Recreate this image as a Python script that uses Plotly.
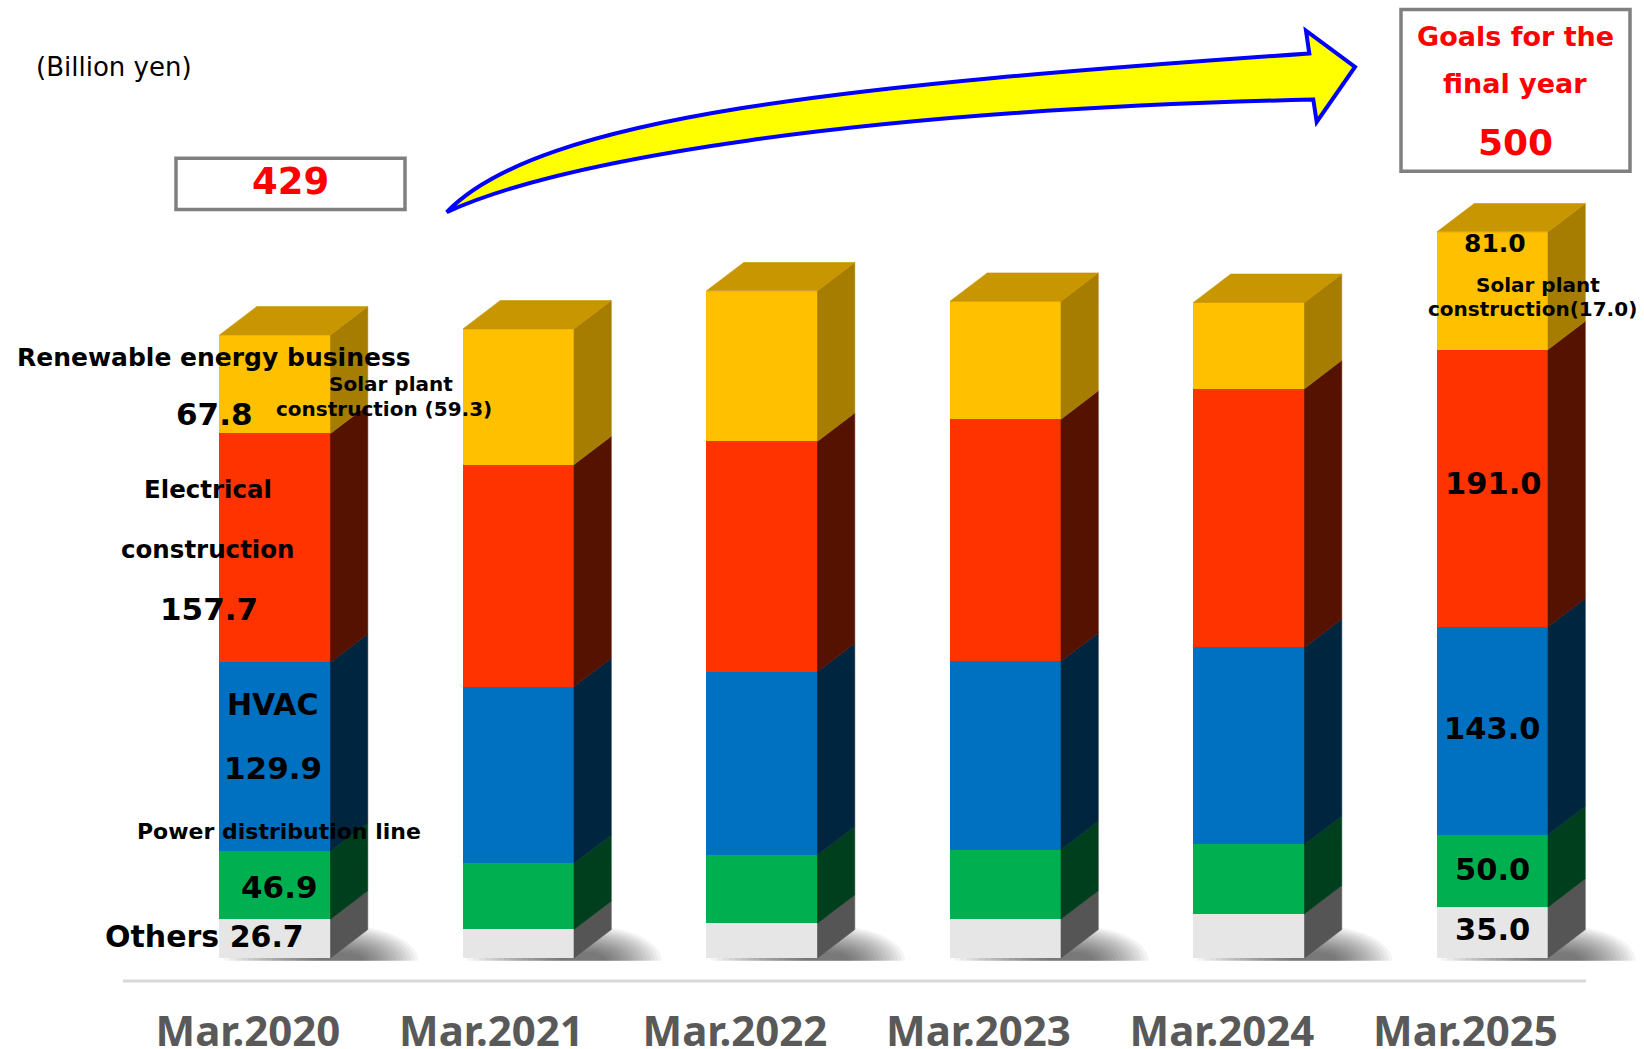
import math
import plotly.graph_objects as go

# ---------------- data ----------------
categories = ["Mar.2020", "Mar.2021", "Mar.2022", "Mar.2023", "Mar.2024", "Mar.2025"]
others      = [26.7, 19.6, 23.9, 26.8, 30.4, 35.0]
power_line  = [46.9, 45.6, 47.1, 47.8, 47.9, 50.0]
hvac        = [129.9, 121.7, 126.1, 129.7, 135.5, 143.0]
electrical  = [157.7, 152.9, 158.7, 166.7, 178.2, 191.0]
renewable   = [67.8, 93.4, 103.6, 81.2, 59.4, 81.0]
solar_plant = [59.3, 17.0]          # solar plant construction (first / final year)
actual_total = 429
goal_total = 500

# ---------------- geometry / style ----------------
SY = 1058 / 1049             # vertical compensation for the capture
W, H = 1644, 1058
PLOT_BOTTOM = 979 * SY       # gray floor line
MB = H - PLOT_BOTTOM
PH = PLOT_BOTTOM
PX_PER_CAT = 243.5
X_ORIGIN_PX = 275.0
BASE_PX = 956.0 * SY
PX_PER_UNIT = 1.4492 * SY
BAR_W = 0.456
DX = 0.153
DY = 28.3 / 1.4492
FONT = "DejaVu Sans"
TICK_FONT = "Noto Sans"

series = [
    ("Others", others, "#E6E6E6", "#555555"),
    ("Power distribution line", power_line, "#00B050", "#003F1D"),
    ("HVAC", hvac, "#0070C0", "#00263F"),
    ("Electrical construction", electrical, "#FF3300", "#551200"),
    ("Renewable energy business", renewable, "#FFC000", "#A67D00"),
]
TOP_COLOR = "#C79600"

x_range = [-X_ORIGIN_PX / PX_PER_CAT, (W - X_ORIGIN_PX) / PX_PER_CAT]
y_range = [-(PH - BASE_PX) / PX_PER_UNIT, BASE_PX / PX_PER_UNIT]


def px(xp):
    return xp / W


def py(yp):
    return 1 - yp * SY / PH


xs = list(range(len(categories)))
fig = go.Figure()

for name, vals, front, side in series:
    fig.add_trace(go.Bar(
        x=xs, y=vals, name=name, width=BAR_W,
        marker=dict(color=front, line=dict(width=0)),
        hoverinfo="name+y", showlegend=False,
    ))

shapes = []
# soft ground shadows (stacked translucent half-ellipses)
for i in xs:
    fl = i - BAR_W / 2
    fr = i + BAR_W / 2
    cx = fr + 0.06
    yb = -2.0
    n_layers = 16
    for k in range(n_layers):
        s = 1 - k * 0.05
        hwL, hwR, hh = 0.50 * s, 0.30 * s, 24.0 * s
        pts = []
        for j in range(49):
            th = math.pi * j / 48
            c = math.cos(th)
            w = hwR if c > 0 else hwL
            pts.append((cx + w * c, yb + hh * math.sin(th)))
        path = "M " + " L ".join(f"{a:.4f},{b:.3f}" for a, b in pts) + " Z"
        shapes.append(dict(type="path", path=path, xref="x", yref="y", layer="below",
                           fillcolor="rgba(0,0,0,0.045)", line=dict(width=0)))

# side faces and top faces
for i in xs:
    fl = i - BAR_W / 2
    fr = i + BAR_W / 2
    bottom = 0.0
    for name, vals, front, side in series:
        top = bottom + vals[i]
        path = (f"M {fr},{bottom} L {fr + DX},{bottom + DY} L {fr + DX},{top + DY} "
                f"L {fr},{top} Z")
        shapes.append(dict(type="path", path=path, xref="x", yref="y",
                           fillcolor=side, line=dict(color=side, width=0.6)))
        bottom = top
    path = (f"M {fl},{bottom} L {fl + DX},{bottom + DY} L {fr + DX},{bottom + DY} "
            f"L {fr},{bottom} Z")
    shapes.append(dict(type="path", path=path, xref="x", yref="y",
                       fillcolor=TOP_COLOR, line=dict(color=TOP_COLOR, width=0.6)))

# floor line
shapes.append(dict(type="line", xref="paper", yref="paper",
                   x0=px(123), x1=px(1586), y0=py(979), y1=py(979),
                   line=dict(color="#D9D9D9", width=3)))

# boxes
shapes.append(dict(type="rect", xref="paper", yref="paper",
                   x0=px(176), x1=px(405), y0=py(209), y1=py(158),
                   fillcolor="white", line=dict(color="#808080", width=3.5)))
shapes.append(dict(type="rect", xref="paper", yref="paper",
                   x0=px(1401), x1=px(1630), y0=py(171), y1=py(9.5),
                   fillcolor="white", line=dict(color="#808080", width=3.5)))


# curved arrow (page pixel points converted to paper)
def P(x, y):
    return f"{px(x):.5f},{py(y):.5f}"


arrow = (
    f"M {P(446.7, 211.7)} "
    f"C {P(540, 115)} {P(850, 85)} {P(1309.3, 53.3)} "
    f"L {P(1306, 30.7)} L {P(1355, 66.7)} L {P(1316.7, 121.7)} L {P(1313.3, 99.3)} "
    f"C {P(850, 110)} {P(560, 160)} {P(446.7, 211.7)} Z"
)
shapes.append(dict(type="path", path=arrow, xref="paper", yref="paper",
                   fillcolor="#FFFF00", line=dict(color="#0000FF", width=4)))

fig.update_layout(shapes=shapes)

# ---------------- text ----------------
ann = []


def T(text, x, y, size, color="black", bold=True):
    ann.append(dict(text=text, x=px(x), y=py(y), xref="paper", yref="paper",
                    xanchor="center", yanchor="middle", showarrow=False,
                    font=dict(family=FONT, size=size, color=color,
                              weight="bold" if bold else "normal")))


f1 = lambda v: f"{v:.1f}"

T("(Billion yen)", 114, 67, 26, bold=False)
T(f"{actual_total}", 290, 181, 37, color="#FF0000")
T("Goals for the", 1515, 36, 27, color="#FF0000")
T("final year", 1515, 83, 27, color="#FF0000")
T(f"{goal_total}", 1515, 142, 36, color="#FF0000")

T("Renewable energy business", 214, 357, 25)
T(f1(renewable[0]), 214, 413, 31)
T("Solar plant", 391, 383, 20)
T(f"construction ({f1(solar_plant[0])})", 384, 408, 20)
T("Electrical", 208, 489, 24.5)
T("construction", 208, 548, 24.5)
T(f1(electrical[0]), 209, 608, 31)
T("HVAC", 273, 703, 30)
T(f1(hvac[0]), 273, 766, 31)
T("Power distribution line", 279, 830, 22)
T(f1(power_line[0]), 279, 885, 31)
T(f"Others {f1(others[0])}", 204, 935, 30)

T(f1(renewable[5]), 1495, 243, 25)
T("Solar plant", 1538, 284, 20)
T(f"construction({f1(solar_plant[1])})", 1532, 308, 20)
T(f1(electrical[5]), 1493, 483, 30.5)
T(f1(hvac[5]), 1492, 727, 30.5)
T(f1(power_line[5]), 1492, 868, 30.5)
T(f1(others[5]), 1492, 928, 30.5)

fig.update_layout(
    annotations=ann,
    barmode="stack",
    bargap=0,
    width=W, height=H,
    margin=dict(l=0, r=0, t=0, b=MB, pad=0),
    paper_bgcolor="white", plot_bgcolor="white",
    showlegend=False,
    xaxis=dict(range=x_range, tickmode="array",
               tickvals=[i - 0.111 for i in xs], ticktext=categories,
               tickfont=dict(family=TICK_FONT, size=42, color="#595959", weight="bold"),
               showgrid=False, zeroline=False, showline=False, ticks="",
               ticklabelstandoff=22, fixedrange=True),
    yaxis=dict(range=y_range, showgrid=False, zeroline=False, showline=False,
               showticklabels=False, ticks="", fixedrange=True),
)

# pin the figure to the page corner so nothing adds scroll size
post = (
    "var s=document.createElement('style');"
    f"s.innerHTML='html,body{{margin:0!important;padding:0!important;"
    f"overflow:hidden!important;width:{W}px;height:{H}px;}}"
    ".plotly-graph-div{position:fixed!important;top:0;left:0;}"
    ".main-svg{overflow:hidden!important;}';"
    "document.head.appendChild(s);"
)

fig.write_html("out.html", post_script=post, config={"displayModeBar": False})
